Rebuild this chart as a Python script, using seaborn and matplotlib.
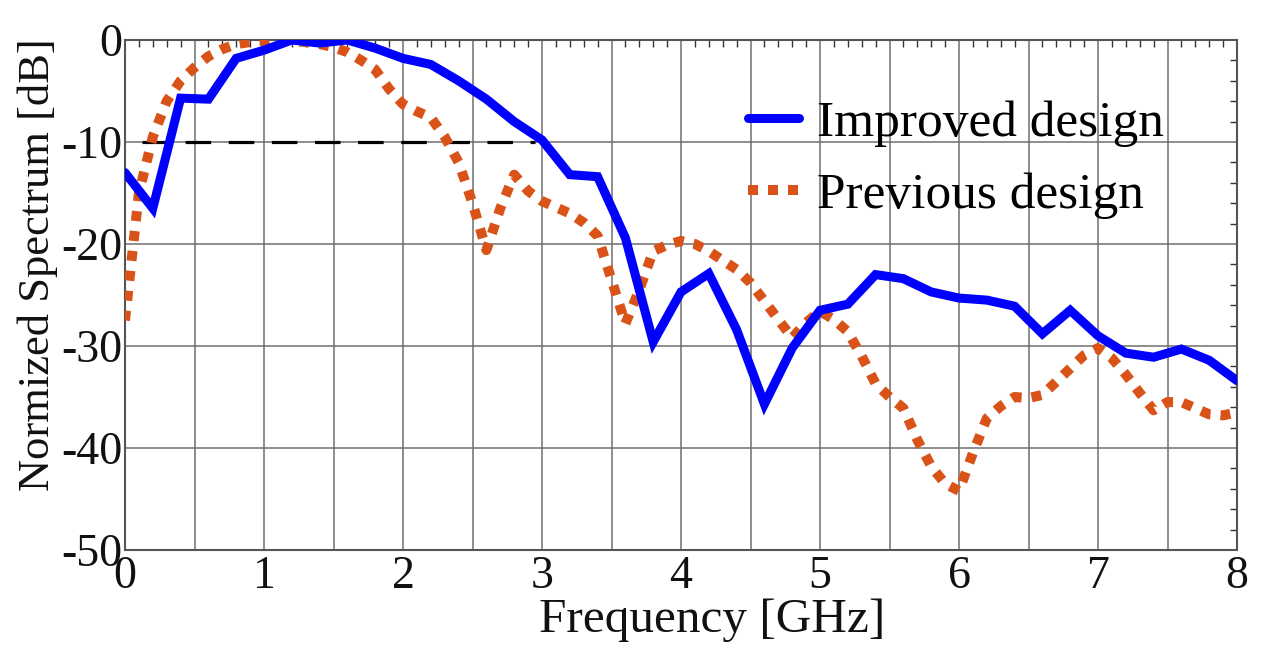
import numpy as np
import pandas as pd
import seaborn as sns
import matplotlib
matplotlib.use("Agg")
import matplotlib.pyplot as plt
from matplotlib.ticker import MultipleLocator, FuncFormatter

# ---------------- data ----------------
freq_improved = [0.0, 0.2, 0.4, 0.6, 0.8, 1.0, 1.2, 1.4, 1.6, 1.8, 2.0, 2.2, 2.4, 2.6, 2.8,
                 3.0, 3.2, 3.4, 3.6, 3.8, 4.0, 4.2, 4.4, 4.6, 4.8, 5.0, 5.2, 5.4, 5.6, 5.8,
                 6.0, 6.2, 6.4, 6.6, 6.8, 7.0, 7.2, 7.4, 7.6, 7.8, 8.0]
spec_improved = [-13.0, -16.5, -5.7, -5.8, -1.8, -1.0, 0.0, -0.3, 0.0, -0.8, -1.8, -2.4, -4.0,
                 -5.8, -8.0, -9.8, -13.2, -13.4, -19.4, -29.6, -24.7, -22.9, -28.4, -35.7,
                 -30.2, -26.5, -25.9, -23.0, -23.4, -24.7, -25.3, -25.5, -26.1, -28.8, -26.5,
                 -29.0, -30.7, -31.1, -30.3, -31.4, -33.4]

freq_previous = [0.0, 0.1, 0.2, 0.3, 0.4, 0.5, 0.6, 0.7, 0.8, 0.9, 1.0, 1.1, 1.2, 1.3, 1.4,
                 1.5, 1.6, 1.7, 1.8, 1.9, 2.0, 2.1, 2.2, 2.3, 2.4, 2.5, 2.6, 2.7, 2.8, 2.9,
                 3.0, 3.1, 3.2, 3.3, 3.4, 3.5, 3.6, 3.7, 3.8, 3.9, 4.0, 4.1, 4.2, 4.3, 4.4,
                 4.5, 4.6, 4.7, 4.8, 4.9, 5.0, 5.1, 5.2, 5.3, 5.4, 5.5, 5.6, 5.7, 5.8, 5.9,
                 6.0, 6.1, 6.2, 6.3, 6.4, 6.5, 6.6, 6.7, 6.8, 6.9, 7.0, 7.1, 7.2, 7.3, 7.4,
                 7.5, 7.6, 7.7, 7.8, 7.9, 8.0]
spec_previous = [-27.5, -15.0, -9.5, -6.0, -4.0, -2.7, -1.6, -0.9, -0.4, -0.2, -0.1, 0.0, -0.1,
                 -0.2, -0.4, -0.7, -1.2, -2.0, -2.9, -4.8, -6.3, -7.0, -7.6, -9.5, -12.0,
                 -16.0, -20.6, -16.5, -13.2, -14.8, -15.8, -16.4, -17.0, -17.9, -19.2, -23.5,
                 -27.8, -24.5, -20.7, -20.1, -19.7, -20.0, -20.7, -21.6, -22.5, -23.8, -25.6,
                 -27.4, -29.2, -27.7, -26.6, -27.4, -28.6, -31.0, -33.7, -35.0, -36.1, -39.2,
                 -41.8, -43.5, -44.2, -40.5, -37.1, -35.9, -35.0, -35.1, -34.8, -33.5, -32.2,
                 -30.9, -30.2, -31.2, -32.8, -34.6, -36.3, -35.5, -35.5, -36.1, -36.7, -36.8,
                 -36.5]

thr_freq = [0.12, 2.95]
thr_level = [-10, -10]

x_ticks = [0, 1, 2, 3, 4, 5, 6, 7, 8]
y_ticks = [0, -10, -20, -30, -40, -50]
series_names = ["Improved design", "Previous design"]
x_label = "Frequency [GHz]"
y_label = "Normized Spectrum [dB]"

# ---------------- style ----------------
sns.set_theme(style="white")
plt.rcParams["font.family"] = ["Liberation Serif", "DejaVu Serif"]
plt.rcParams["axes.unicode_minus"] = False

TXT = "#111111"

fig = plt.figure(figsize=(12.61, 6.5), dpi=100)
ax = fig.add_axes([125 / 1261, 1 - 550 / 650, (1237 - 125) / 1261, (550 - 40) / 650])

df_imp = pd.DataFrame({"f": freq_improved, "s": spec_improved})
df_prev = pd.DataFrame({"f": freq_previous, "s": spec_previous})
df_thr = pd.DataFrame({"f": thr_freq, "s": thr_level})

sns.lineplot(data=df_thr, x="f", y="s", ax=ax, color="black", lw=2.3,
             linestyle=(0, (8, 5.5)), zorder=3)
sns.lineplot(data=df_prev, x="f", y="s", ax=ax, color="#D95319", lw=7.2,
             linestyle=(0, (1, 1)), dash_capstyle="butt", label=series_names[1], zorder=4)
sns.lineplot(data=df_imp, x="f", y="s", ax=ax, color="#0000FF", lw=6.5,
             solid_joinstyle="miter", label=series_names[0], zorder=5)

ax.set_xlim(0, 8)
ax.set_ylim(-50, 0)

ax.xaxis.set_major_locator(MultipleLocator(0.5))
ax.xaxis.set_minor_locator(MultipleLocator(0.1))
ax.xaxis.set_major_formatter(FuncFormatter(
    lambda v, p: f"{int(round(v))}" if abs(v - round(v)) < 1e-6 and int(round(v)) in x_ticks else ""))
ax.yaxis.set_major_locator(MultipleLocator(10))
ax.yaxis.set_minor_locator(MultipleLocator(2))
ax.yaxis.set_major_formatter(FuncFormatter(
    lambda v, p: f"{int(round(v))}" if int(round(v)) in y_ticks else ""))

ax.grid(True, which="major", color="#6f6f6f", lw=1.1)
ax.tick_params(which="both", direction="in", top=True, right=True, colors="#333333",
               labelcolor=TXT)
ax.tick_params(which="major", length=0, labelsize=33, pad=4)
ax.tick_params(which="minor", length=5, width=1)
ax.tick_params(axis="y", which="major", pad=2)

for sp in ax.spines.values():
    sp.set_color("#555555")
    sp.set_linewidth(1.5)

ax.set_xlabel(x_label, fontsize=35.5, color=TXT)
ax.xaxis.set_label_coords(0.528, -0.095)
ax.set_ylabel(y_label, fontsize=32, color=TXT)
ax.yaxis.set_label_coords(-0.06, 0.56)

handles, labels = ax.get_legend_handles_labels()
order = [labels.index(series_names[0]), labels.index(series_names[1])]
leg = ax.legend([handles[i] for i in order], [labels[i] for i in order],
                loc="upper right", bbox_to_anchor=(0.953, 0.923), frameon=False,
                fontsize=37, handlelength=1.0, handletextpad=0.35, labelspacing=0.5,
                borderaxespad=0.0)
for t in leg.get_texts():
    t.set_color("black")

fig.savefig("out.png", dpi=100)
